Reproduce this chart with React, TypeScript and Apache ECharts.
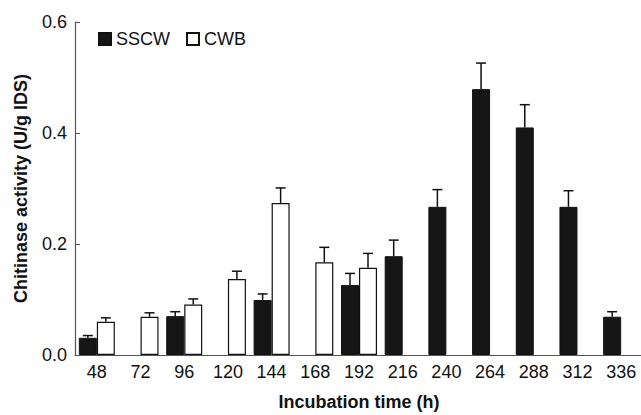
import React, { useEffect, useRef } from "react";
import * as echarts from "echarts";

const categories = ["48", "72", "96", "120", "144", "168", "192", "216", "240", "264", "288", "312", "336"];
const sscw: (number | null)[] = [0.031, null, 0.07, null, 0.099, null, 0.126, 0.178, 0.267, 0.479, 0.41, 0.267, 0.069];
const sscwErr: (number | null)[] = [0.004, null, 0.008, null, 0.011, null, 0.021, 0.029, 0.031, 0.047, 0.041, 0.029, 0.009];
const cwb: (number | null)[] = [0.06, 0.069, 0.091, 0.137, 0.274, 0.167, 0.157, null, null, null, null, null, null];
const cwbErr: (number | null)[] = [0.007, 0.007, 0.01, 0.014, 0.027, 0.027, 0.026, null, null, null, null, null, null];
const yTicks = [0, 0.2, 0.4, 0.6];

const FONT = "'Liberation Sans', Arial, Helvetica, sans-serif";
const BAR_W = 18;

function errData(vals: (number | null)[], errs: (number | null)[]) {
  const out: number[][] = [];
  vals.forEach((v, i) => {
    const e = errs[i];
    if (v != null && e != null) out.push([i, v, e]);
  });
  return out;
}

function makeErrRender(offset: number) {
  return (params: any, api: any) => {
    const idx = api.value(0);
    const v = api.value(1);
    const e = api.value(2);
    const base = api.coord([idx, v]);
    const top = api.coord([idx, v + e]);
    const x = base[0] + offset;
    const style = { stroke: "#111", lineWidth: 1.5 };
    return {
      type: "group",
      children: [
        { type: "line", shape: { x1: x, y1: base[1], x2: x, y2: top[1] }, style },
        { type: "line", shape: { x1: x - 5, y1: top[1], x2: x + 5, y2: top[1] }, style },
      ],
    };
  };
}

export default function App() {
  const ref = useRef<HTMLDivElement>(null);
  useEffect(() => {
    if (!ref.current) return;
    const chart = echarts.init(ref.current, null, { renderer: "svg" });
    chart.setOption({
      animation: false,
      backgroundColor: "#fff",
      textStyle: { fontFamily: FONT },
      grid: { left: 75, right: -2, top: 22, bottom: 60, containLabel: false, outerBoundsMode: "none" },
      legend: {
        left: 93,
        top: 25,
        itemWidth: 12,
        itemHeight: 12,
        itemGap: 16,
        icon: "rect",
        textStyle: { fontSize: 18, color: "#111", fontFamily: FONT },
        data: ["SSCW", "CWB"],
      },
      xAxis: {
        type: "category",
        data: categories,
        axisLine: { lineStyle: { color: "#555", width: 1.2 } },
        axisTick: { show: false },
        axisLabel: { fontSize: 18, color: "#111", margin: 8, fontFamily: FONT },
        name: "Incubation time (h)",
        nameLocation: "middle",
        nameGap: 38,
        nameTextStyle: { fontSize: 18, fontWeight: "bold", color: "#111", fontFamily: FONT },
      },
      yAxis: {
        type: "value",
        min: yTicks[0],
        max: yTicks[yTicks.length - 1],
        interval: 0.2,
        axisLine: { show: true, lineStyle: { color: "#555", width: 1.2 } },
        axisTick: { show: true, inside: true, length: 5, lineStyle: { color: "#555" } },
        splitLine: { show: false },
        axisLabel: {
          fontSize: 18,
          color: "#111",
          margin: 8,
          fontFamily: FONT,
          formatter: (v: number) => v.toFixed(1),
        },
        name: "Chitinase activity (U/g IDS)",
        nameLocation: "middle",
        nameGap: 45,
        nameTextStyle: { fontSize: 18, fontWeight: "bold", color: "#111", fontFamily: FONT },
      },
      series: [
        {
          name: "SSCW",
          type: "bar",
          data: sscw,
          barWidth: BAR_W,
          barGap: "0%",
          itemStyle: { color: "#161616", borderColor: "#111", borderWidth: 1 },
        },
        {
          name: "CWB",
          type: "bar",
          data: cwb,
          barWidth: BAR_W,
          barGap: "0%",
          itemStyle: { color: "#ffffff", borderColor: "#111", borderWidth: 1.2 },
        },
        {
          type: "custom",
          data: errData(sscw, sscwErr),
          encode: { x: 0, y: 1 },
          renderItem: makeErrRender(-BAR_W / 2),
          z: 5,
        },
        {
          type: "custom",
          data: errData(cwb, cwbErr),
          encode: { x: 0, y: 1 },
          renderItem: makeErrRender(BAR_W / 2),
          z: 5,
        },
      ],
    });
    return () => chart.dispose();
  }, []);
  return (
    <div
      ref={ref}
      style={{ position: "fixed", left: 0, top: 0, width: 641, height: 415 }}
    />
  );
}
